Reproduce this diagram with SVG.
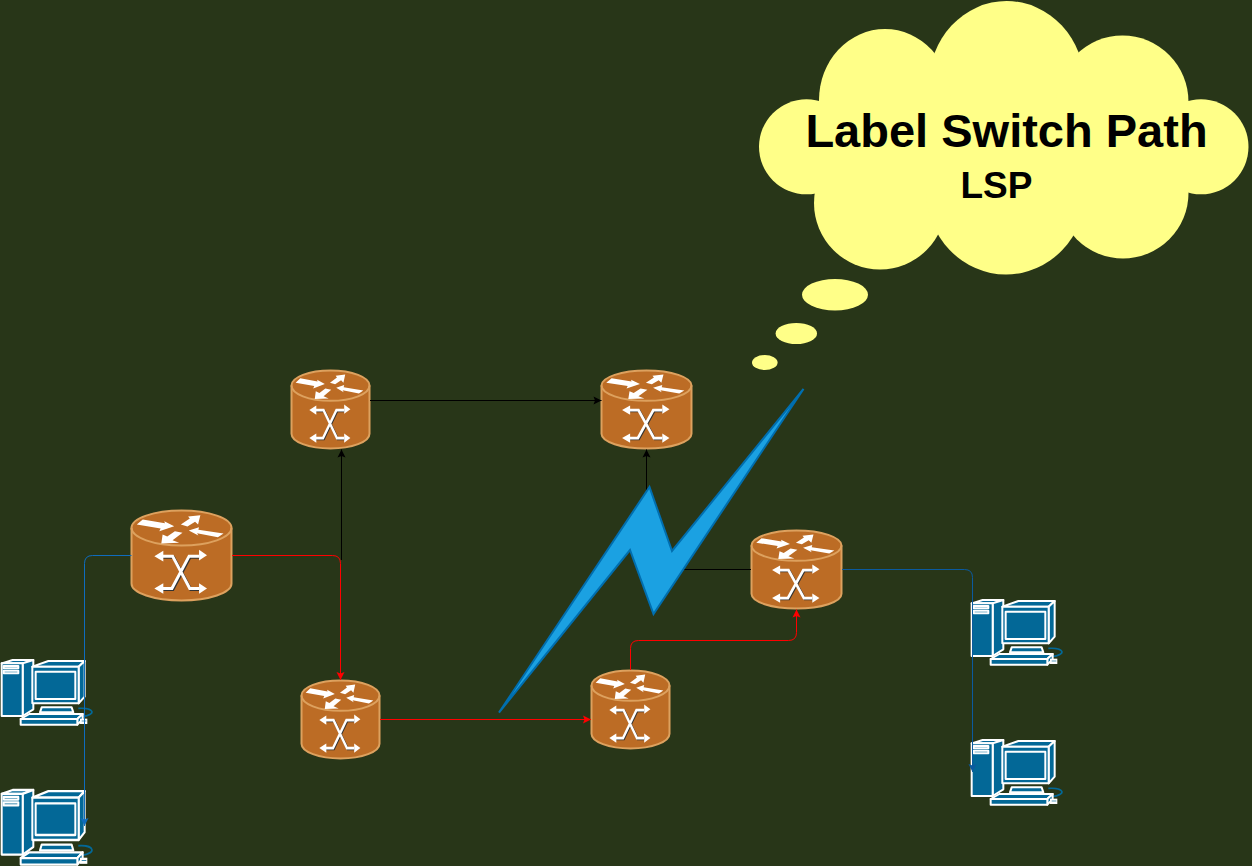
<svg xmlns="http://www.w3.org/2000/svg" width="1252" height="866" viewBox="0 0 1252 866">
<style>
.lbl{font-family:"Liberation Sans",Arial,sans-serif;font-weight:bold;fill:#000;text-anchor:middle}
.cloud{fill:#ffff88;stroke:none}
.rb{fill:#bc6c25;stroke:#dda15e;stroke-width:2;vector-effect:non-scaling-stroke}
.rt{fill:none;stroke:#dda15e;stroke-width:2;vector-effect:non-scaling-stroke}
.rw{fill:#fff;stroke:none}
.rl{fill:none;stroke:#fff;stroke-width:9}
.rs{fill:none;stroke:#333;stroke-width:9}
.p{fill:#036897;stroke:#fff;stroke-width:6;stroke-linejoin:round}
.c{fill:none;stroke-width:1}
</style>
<defs>
<marker id="aK" markerUnits="userSpaceOnUse" markerWidth="10" markerHeight="10" refX="8" refY="4" orient="auto" overflow="visible"><path d="M0 0L8 4L0 8L1.5 4Z" fill="#000"/></marker>
<marker id="aR" markerUnits="userSpaceOnUse" markerWidth="10" markerHeight="10" refX="8" refY="4" orient="auto" overflow="visible"><path d="M0 0L8 4L0 8L1.5 4Z" fill="#f00"/></marker>
<marker id="aB" markerUnits="userSpaceOnUse" markerWidth="10" markerHeight="10" refX="8" refY="4" orient="auto" overflow="visible"><path d="M0 0L8 4L0 8L1.5 4Z" fill="#0f6cbd"/></marker>
<marker id="aD" markerUnits="userSpaceOnUse" markerWidth="10" markerHeight="10" refX="8" refY="4" orient="auto" overflow="visible"><path d="M0 0L8 4L0 8L1.5 4Z" fill="#0b5a9e"/></marker>
<g id="router">
<path class="rb" d="M34 80A151 52 0 0 1 336 80V247A151 51 0 0 1 34 247Z"/>
<path class="rt" d="M34 80A151 53 0 0 0 336 80"/>
<polygon class="rw" points="68,55 135,66 133,60 163,75 118,90 122,82 50,70"/>
<polygon class="rw" points="242,42 235,70 226,62 203,76 183,70 210,52 205,46"/>
<polygon class="rw" points="207,88 238,78 236,86 312,97 295,108 232,96 236,103"/>
<polygon class="rw" points="124,127 128,100 142,106 165,90 188,95 158,117 178,125"/>
<path class="rs" transform="translate(3 3)" d="M125 165H158L210 262H238M238 165H208L156 262H125"/>
<path class="rl" d="M125 165H158L210 262H238M238 165H208L156 262H125"/>
<polygon class="rw" points="103,165 130,149 130,181"/>
<polygon class="rw" points="262,162 238,146 238,178"/>
<polygon class="rw" points="103,262 130,246 130,278"/>
<polygon class="rw" points="262,262 238,246 238,278"/>
</g>
<g id="pc" transform="scale(.3333)">
<path d="M235 175C285 172 290 195 245 200" fill="none" stroke="#036897" stroke-width="5"/>
<polygon class="p" points="5,40 38,30 100,30 68,40"/>
<polygon class="p" points="68,40 100,30 100,178 68,198"/>
<rect class="p" x="5" y="40" width="63" height="158"/>
<rect class="p" x="11" y="48" width="44" height="7"/>
<rect class="p" x="11" y="62" width="44" height="8"/>
<polygon class="p" points="125,172 215,172 220,187 120,187"/>
<polygon class="p" points="97,50 145,33 254,33 236,50"/>
<polygon class="p" points="236,50 254,33 254,140 236,160"/>
<rect class="p" x="97" y="50" width="139" height="110"/>
<rect class="p" x="107" y="65" width="119" height="82"/>
<polygon class="p" points="62,207 88,192 248,192 232,207"/>
<polygon class="p" points="232,207 248,192 248,208 232,224"/>
<rect class="p" x="62" y="207" width="170" height="17"/>
<rect x="240" y="206" width="22" height="16" fill="#fff"/>
<rect x="245" y="212" width="14" height="2" fill="#036897"/>
</g>
</defs>
<rect width="1252" height="866" fill="#283618"/>

<g id="pc-1"><use href="#pc" x="0" y="650"/></g>
<g id="pc-2" transform="translate(0 790) scale(1 1.154) translate(0 -10)"><use href="#pc"/></g>
<g id="pc-3"><use href="#pc" x="970" y="590"/></g>
<g id="pc-4"><use href="#pc" x="970" y="730"/></g>

<g id="router-a" transform="translate(131.5 510.5) scale(.3311 .3333) translate(-34 -28)"><use href="#router"/></g>
<g id="router-b" transform="translate(291.5 370.5) scale(.2583 .2889) translate(-34 -28)"><use href="#router"/></g>
<g id="router-c" transform="translate(601.5 370.5) scale(.298 .2889) translate(-34 -28)"><use href="#router"/></g>
<g id="router-d" transform="translate(751.5 530.5) scale(.298 .2889) translate(-34 -28)"><use href="#router"/></g>
<g id="router-e" transform="translate(301.5 680.5) scale(.2583 .2889) translate(-34 -28)"><use href="#router"/></g>
<g id="router-f" transform="translate(591.5 670.5) scale(.2583 .2889) translate(-34 -28)"><use href="#router"/></g>

<g id="connectors">
<path class="c" stroke="#000" marker-end="url(#aK)" d="M341.5 560V449.5"/>
<path class="c" stroke="#000" marker-end="url(#aK)" d="M370 400.5H601.5"/>
<path class="c" stroke="#000" marker-end="url(#aK)" d="M751 569.5H646.5V449.5"/>
<path class="c" stroke="#0f6cbd" marker-end="url(#aB)" d="M131.5 555.5H92.5Q84.5 555.5 84.5 563.5V826"/>
<path class="c" stroke="#0b5a9e" marker-end="url(#aD)" d="M842 569.5H964.5Q972.5 569.5 972.5 577.5V772"/>
<path class="c" stroke="#f00" marker-end="url(#aR)" d="M232 555.5H332.5Q340.5 555.5 340.5 563.5V680"/>
<path class="c" stroke="#f00" marker-end="url(#aR)" d="M380 719.5H591"/>
<path class="c" stroke="#f00" marker-end="url(#aR)" d="M630.5 670V648.5Q630.5 640.5 638.5 640.5H788.5Q796.5 640.5 796.5 632.5V609.5"/>
</g>

<g id="lightning"><polygon points="803.5,389 672,551 649.5,487 499,712.5 630,550 653.5,614" fill="#1ba1e2" stroke="#006eaf" stroke-width="2" stroke-miterlimit="4"/></g>

<g id="thought-cloud">
<ellipse class="cloud" cx="1006.7" cy="85" rx="78" ry="84"/>
<ellipse class="cloud" cx="885" cy="100" rx="66" ry="71"/>
<ellipse class="cloud" cx="1122.5" cy="102" rx="66" ry="66.5"/>
<ellipse class="cloud" cx="880" cy="203" rx="66" ry="66.5"/>
<ellipse class="cloud" cx="1006" cy="190" rx="80" ry="84.5"/>
<ellipse class="cloud" cx="1123" cy="193" rx="65.5" ry="65.5"/>
<circle class="cloud" cx="806.5" cy="146.8" r="47.5"/>
<circle class="cloud" cx="1201" cy="146.8" r="47.5"/>
<rect class="cloud" x="819" y="100" width="369" height="93"/>
<ellipse class="cloud" cx="835" cy="294.7" rx="33" ry="15.7"/>
<ellipse class="cloud" cx="796.3" cy="333.5" rx="20.7" ry="10.5"/>
<ellipse class="cloud" cx="764.8" cy="362.5" rx="12.8" ry="7.5"/>
<text class="lbl" x="1006.5" y="147" font-size="47">Label Switch Path</text>
<text class="lbl" x="996.5" y="198" font-size="37">LSP</text>
</g>
</svg>
